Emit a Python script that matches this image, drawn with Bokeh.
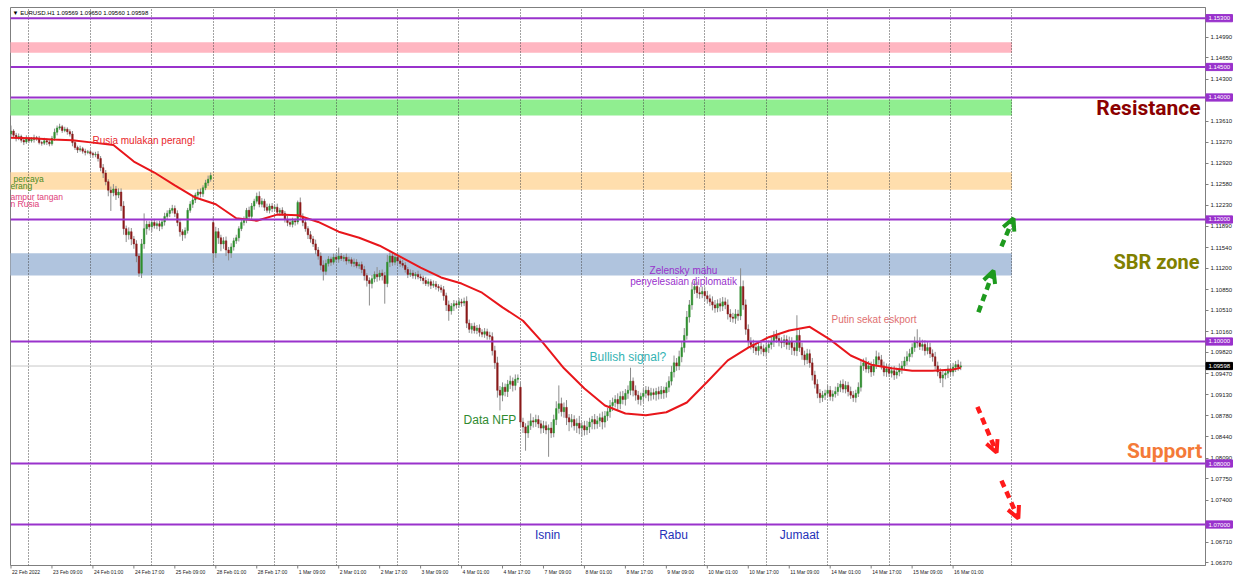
from bokeh.plotting import figure
from bokeh.models import (Range1d, FixedTicker, PrintfTickFormatter, Span, Label,
                          Arrow, OpenHead, Grid)
from bokeh.core.properties import value
from bokeh.embed import file_html
from bokeh.resources import INLINE

# ---------------- data (EURUSD H1) ----------------
first_open = 1.1340
closes = [
    # 22 Feb 17:00 ..
    1.1345, 1.1338, 1.1333, 1.1336, 1.1330, 1.1327, 1.1332, 1.1329, 1.1331, 1.1334, 1.1333, 1.1326, 1.1325, 1.1329, 1.1327, 1.1324,
    1.1333, 1.1343, 1.1350, 1.1352, 1.1346, 1.1348, 1.1344, 1.1340, 1.1326,
    1.1318, 1.1314, 1.1316, 1.1312, 1.1310, 1.1311, 1.1308, 1.1306, 1.1307,
    1.1300, 1.1285, 1.1276, 1.1262, 1.1248, 1.1244, 1.1250, 1.1240, 1.1245,
    1.1222, 1.1185, 1.1175, 1.1180, 1.1168, 1.1160, 1.1140, 1.1112, 1.1160,
    1.1185, 1.1192, 1.1188, 1.1195, 1.1190, 1.1193, 1.1189, 1.1196, 1.1205, 1.1210, 1.1215, 1.1218, 1.1210,
    1.1195, 1.1180, 1.1175, 1.1182,
    1.1215, 1.1225, 1.1232, 1.1240, 1.1245, 1.1242, 1.1252, 1.1260, 1.1266, 1.1272,
    # 28 Feb
    1.1145, 1.1180, 1.1170, 1.1160, 1.1165, 1.1150, 1.1145, 1.1155, 1.1165,
    1.1170, 1.1185, 1.1195, 1.1200, 1.1215, 1.1205, 1.1222, 1.1230, 1.1238, 1.1225,
    1.1230, 1.1220, 1.1215, 1.1222, 1.1218, 1.1220, 1.1212, 1.1215, 1.1210, 1.1200, 1.1195, 1.1192, 1.1198, 1.1196, 1.1228, 1.1205,
    1.1195, 1.1185, 1.1175, 1.1168, 1.1160, 1.1150, 1.1140, 1.1125, 1.1115, 1.1128,
    1.1135, 1.1130, 1.1138, 1.1135, 1.1140, 1.1136, 1.1138, 1.1132, 1.1134, 1.1128, 1.1130, 1.1124, 1.1126,
    1.1118, 1.1108, 1.1100, 1.1095, 1.1103, 1.1110, 1.1106, 1.1112, 1.1108,
    1.1095, 1.1130, 1.1140, 1.1130, 1.1138,
    1.1132, 1.1128, 1.1125, 1.1118, 1.1110, 1.1112, 1.1108, 1.1110, 1.1106, 1.1104, 1.1100, 1.1095, 1.1098, 1.1092, 1.1094, 1.1090, 1.1088, 1.1085,
    1.1075, 1.1060, 1.1050, 1.1058, 1.1062, 1.1060, 1.1065, 1.1063, 1.1066, 1.1030,
    1.1020, 1.1025, 1.1018, 1.1022, 1.1015, 1.1012, 1.1016, 1.1010, 1.1008, 1.0985,
    1.0965, 1.0920, 1.0912, 1.0925, 1.0918, 1.0930, 1.0935, 1.0928, 1.0938, 1.0940,
    # 7 Mar
    1.0868, 1.0860, 1.0850, 1.0862, 1.0870, 1.0868, 1.0872, 1.0865, 1.0858, 1.0862, 1.0855, 1.0858, 1.0850, 1.0872, 1.0890, 1.0898,
    1.0885, 1.0892, 1.0875, 1.0868, 1.0872, 1.0862, 1.0866, 1.0858, 1.0862, 1.0855, 1.0860, 1.0868, 1.0872, 1.0865, 1.0870, 1.0875,
    1.0868, 1.0878, 1.0885, 1.0895, 1.0900, 1.0905, 1.0898, 1.0910, 1.0905, 1.0915, 1.0920, 1.0935, 1.0920, 1.0912, 1.0905, 1.0910,
    1.0915, 1.0920, 1.0912, 1.0916, 1.0913, 1.0918, 1.0914, 1.0920, 1.0916, 1.0925,
    1.0935, 1.0950, 1.0965, 1.0960, 1.0975, 1.0990, 1.1010, 1.1040, 1.1060, 1.1085, 1.1090, 1.1080, 1.1078, 1.1082, 1.1075,
    1.1070, 1.1065, 1.1060, 1.1055, 1.1062, 1.1058, 1.1065, 1.1060, 1.1045, 1.1040, 1.1038, 1.1045, 1.1042, 1.1090,
    1.1060, 1.1020, 1.1000, 1.0995, 1.0990, 1.0985, 1.0992, 1.0988, 1.0983, 1.0990, 1.0995,
    1.1000, 1.1010, 1.1005, 1.1000, 1.0998, 1.1003, 1.0995, 1.1000, 1.0990,
    1.0985, 1.1010, 1.0990, 1.0978, 1.0970, 1.0980, 1.0965, 1.0945, 1.0930, 1.0915, 1.0908,
    1.0912, 1.0915, 1.0920, 1.0910, 1.0914, 1.0918, 1.0925, 1.0930, 1.0922, 1.0928, 1.0918, 1.0912, 1.0908, 1.0915, 1.0925,
    1.0960, 1.0965, 1.0955, 1.0960, 1.0950, 1.0962, 1.0975, 1.0970, 1.0960, 1.0950, 1.0955, 1.0948, 1.0952, 1.0945, 1.0950, 1.0955,
    1.0960, 1.0968, 1.0975, 1.0980, 1.0990, 1.1000, 1.0998, 1.0992, 1.0995, 1.0985, 1.0990, 1.0980, 1.0975, 1.0960, 1.0950, 1.0940,
    1.0945, 1.0948, 1.0955, 1.0950, 1.0958, 1.0962, 1.0958, 1.0960,
]
# opening prices that differ from the previous close (weekend gaps)
gap_opens = {79: 1.1195, 199: 1.0925}

up_wick_pips = [
    9, 3, 4, 5, 3, 4, 6, 3, 4, 5, 3, 4, 3, 5, 4, 3,
    4, 6, 4, 5, 3, 4, 3, 4, 5,
    4, 3, 5, 3, 4, 3, 4, 3, 4,
    5, 4, 6, 5, 4, 6, 8, 5, 6,
    6, 8, 5, 7, 6, 5, 6, 4, 8,
    25, 6, 5, 4, 6, 4, 5, 4, 6, 5, 4, 6, 5,
    5, 6, 4, 5,
    4, 5, 6, 4, 5, 6, 4, 5, 6, 5,
    10, 8, 6, 5, 6, 7, 5, 6, 5,
    5, 4, 6, 5, 4, 6, 5, 4, 6, 8,
    5, 4, 6, 4, 5, 4, 6, 4, 5, 4, 6, 4, 5, 4, 3, 8,
    5, 6, 4, 6, 5, 7, 5, 6, 8, 6,
    5, 4, 6, 5, 14, 5, 4, 6, 5, 4, 6, 5, 4,
    5, 6, 4, 5, 6, 5, 12, 5, 6,
    6, 12, 6, 5, 6,
    5, 4, 6, 5, 4, 6, 5, 4, 6, 5, 4, 6, 5, 4, 6, 5, 4, 5,
    6, 5, 7, 5, 6, 5, 6, 5, 6, 8,
    6, 5, 6, 5, 6, 5, 6, 5, 6, 7,
    8, 10, 7, 8, 6, 7, 9, 6, 8, 6,
    8, 7, 6, 8, 12, 6, 8, 7, 6, 8, 7, 6, 10, 8, 12, 30,
    10, 8, 12, 6, 9, 7, 8, 12, 6, 8, 10, 7, 6, 9, 8, 7, 10, 8, 6, 9, 8, 7, 10, 8, 9, 7, 8, 22, 6, 8,
    7, 6, 8, 7, 6, 8, 7, 6, 8, 7, 6, 8,
    8, 10, 12, 8, 10, 9, 12, 10, 8, 12, 10, 8, 9, 8, 7,
    8, 7, 9, 8, 7, 9, 8, 7, 9, 8, 7, 8, 7, 30,
    10, 9, 8, 7, 8, 7, 9, 8, 7, 8, 7,
    8, 7, 9, 8, 7, 8, 7, 8, 7,
    8, 33, 9, 8, 7, 8, 7, 8, 7, 8, 7,
    7, 6, 8, 7, 6, 8, 7, 6, 8, 7, 6, 8, 7, 6, 8,
    8, 7, 9, 8, 7, 9, 10, 7, 8, 7, 9, 8, 7, 8, 7, 9, 8, 7, 9, 8,
    7, 8, 20, 9, 8, 7, 9, 8, 7, 8, 7, 6, 8, 7, 6, 8, 7, 6, 8, 7,
]
down_wick_pips = [
    4, 3, 5, 3, 4, 5, 3, 4, 3, 5, 4, 3, 4, 3, 5, 4,
    3, 4, 5, 3, 4, 3, 5, 4, 6,
    4, 5, 3, 4, 5, 3, 4, 5, 4,
    5, 6, 8, 6, 10, 30, 6, 8, 5,
    8, 10, 12, 8, 10, 8, 10, 6, 8,
    8, 10, 6, 8, 5, 6, 8, 5, 6, 5, 6, 5, 6,
    6, 8, 10, 6,
    5, 4, 6, 5, 4, 6, 5, 4, 5, 4,
    16, 8, 10, 12, 8, 10, 12, 8, 6,
    5, 6, 4, 5, 6, 4, 5, 6, 4, 5,
    5, 6, 4, 5, 6, 4, 5, 6, 4, 5, 6, 4, 5, 6, 4, 5,
    6, 5, 7, 6, 5, 7, 6, 8, 15, 6,
    5, 6, 4, 5, 6, 4, 5, 6, 4, 5, 6, 4, 5,
    6, 8, 10, 36, 8, 6, 8, 6, 8,
    33, 6, 8, 6, 5,
    5, 6, 4, 5, 6, 4, 5, 6, 4, 5, 6, 4, 5, 6, 4, 5, 6, 5,
    8, 10, 16, 6, 8, 6, 5, 6, 5, 8,
    6, 7, 5, 6, 7, 5, 6, 7, 5, 8,
    10, 12, 25, 10, 8, 9, 8, 10, 8, 6,
    8, 10, 29, 8, 7, 9, 8, 7, 9, 8, 7, 44, 8, 7, 9, 8,
    8, 10, 12, 15, 9, 8, 12, 10, 14, 9, 8, 10, 12, 9, 8, 10, 12, 9, 8, 10, 9, 8, 10, 9, 8, 10, 9, 8, 10, 9,
    8, 10, 9, 8, 10, 9, 8, 10, 9, 8, 10, 8,
    8, 7, 9, 8, 7, 9, 8, 7, 9, 8, 7, 9, 8, 7, 9,
    8, 7, 9, 8, 7, 9, 8, 7, 9, 8, 7, 9, 8, 7,
    8, 9, 10, 8, 9, 7, 8, 9, 7, 8, 9,
    8, 9, 7, 8, 9, 7, 8, 9, 12,
    8, 9, 7, 8, 9, 7, 8, 9, 7, 8, 9,
    7, 8, 6, 7, 8, 6, 7, 8, 6, 7, 8, 6, 7, 8, 6,
    7, 8, 6, 7, 8, 6, 7, 8, 6, 7, 8, 6, 7, 8, 6, 7, 8, 6, 7, 8,
    6, 7, 8, 6, 7, 8, 6, 7, 8, 6, 7, 8, 15, 7, 8, 6, 7, 8, 6, 5,
]

# red moving average, read at every 8th bar
ma_bars = [0, 8, 16, 24, 32, 40, 48, 56, 64, 72, 80, 88, 96, 104, 112, 120, 128, 136, 144, 152,
           160, 168, 176, 184, 192, 200, 208, 216, 224, 232, 240, 248, 256, 264, 272, 280, 288,
           296, 304, 312, 320, 328, 336, 344, 352, 360, 368, 371]
ma_values = [1.1334, 1.1333, 1.1331, 1.1330, 1.1326, 1.1322, 1.1295, 1.1277, 1.1256, 1.1236,
             1.1225, 1.1202, 1.1198, 1.1208, 1.1207, 1.1196, 1.1180, 1.1170, 1.1157, 1.1139,
             1.1121, 1.1105, 1.1095, 1.1080, 1.1056, 1.1034, 1.0997, 1.0956, 1.0923, 1.0895,
             1.0882, 1.0879, 1.0884, 1.0900, 1.0934, 1.0969, 1.0990, 1.1007, 1.1018, 1.1024,
             1.1003, 1.0977, 1.0962, 1.0956, 1.0952, 1.0952, 1.0954, 1.0957]

level_prices = [1.15300, 1.14500, 1.14000, 1.12000, 1.10000, 1.08000, 1.07000]
zone_bottoms = [1.14733, 1.13705, 1.12487, 1.11082]
zone_tops = [1.14907, 1.13967, 1.12775, 1.11448]
zone_colors = ["#FFB6C1", "#90EE90", "#FFDEAD", "#B0C4DE"]
zone_end_bar = 391
last_price = 1.09598

y_ticks = [1.06370, 1.06710, 1.07400, 1.07750, 1.08090, 1.08440, 1.08780, 1.09130, 1.09470,
           1.09820, 1.10160, 1.10510, 1.10850, 1.11200, 1.11540, 1.11890, 1.12230, 1.12580,
           1.12920, 1.13270, 1.13610, 1.14300, 1.14650, 1.14990]
time_labels = ["22 Feb 2022", "23 Feb 09:00", "24 Feb 01:00", "24 Feb 17:00", "25 Feb 09:00",
               "28 Feb 01:00", "28 Feb 17:00", "1 Mar 09:00", "2 Mar 01:00", "2 Mar 17:00",
               "3 Mar 09:00", "4 Mar 01:00", "4 Mar 17:00", "7 Mar 09:00", "8 Mar 01:00",
               "8 Mar 17:00", "9 Mar 09:00", "10 Mar 01:00", "10 Mar 17:00", "11 Mar 09:00",
               "14 Mar 01:00", "14 Mar 17:00", "15 Mar 09:00", "16 Mar 01:00"]
label_step = 16
day_start_bars = [7, 31, 55, 79, 103, 127, 151, 175, 199, 223, 247, 271, 295, 319, 343, 367, 391]

# ---------------- candles ----------------
n = min(len(closes), len(up_wick_pips), len(down_wick_pips))
idx, highs, lows, tops, bottoms, colors = [], [], [], [], [], []
prev = first_open
for i in range(n):
    c = closes[i]
    o = gap_opens.get(i, prev)
    prev = c
    idx.append(i)
    highs.append(max(o, c) + up_wick_pips[i] / 10000.0)
    lows.append(min(o, c) - down_wick_pips[i] / 10000.0)
    tops.append(max(o, c))
    bottoms.append(min(o, c))
    colors.append("#2F8F2F" if c >= o else "#8B1A1A")

# ---------------- figure ----------------
FRAME_W, FRAME_H = 1195, 558
X_START = -0.195
X_END = X_START + FRAME_W / 2.56          # 2.56 px per hourly bar
Y_START, Y_END = 1.06328, 1.15475
PX_Y = (Y_END - Y_START) / FRAME_H          # price per screen pixel
PX_X = (X_END - X_START) / FRAME_W          # bars per screen pixel

p = figure(width=1237, height=577, x_range=Range1d(X_START, X_END), y_range=Range1d(Y_START, Y_END),
           x_axis_location=None, y_axis_location="right", output_backend="svg",
           toolbar_location=None, min_border_left=10, min_border_right=32, min_border_top=7,
           min_border_bottom=12, background_fill_color="white", border_fill_color="white")
p.outline_line_color = "#7F7F7F"
p.grid.visible = False

# zones (behind everything)
p.quad(left=[X_START - 2] * len(zone_tops), right=[zone_end_bar] * len(zone_tops),
       bottom=zone_bottoms, top=zone_tops, fill_color=zone_colors, line_color=None, level="image")

# dotted day separators
p.add_layout(Grid(dimension=0, ticker=FixedTicker(ticks=day_start_bars), grid_line_color="#444444",
                  grid_line_dash="1 2", grid_line_width=1))

# current bid line
p.add_layout(Span(location=last_price, dimension="width", line_color="#C8C8C8", line_width=1,
                  level="underlay"))

p.segment(x0=idx, y0=lows, x1=idx, y1=highs, line_color="#8C8C8C", line_width=1)
p.vbar(x=idx, width=0.62, top=tops, bottom=bottoms, fill_color=colors, line_color=colors, line_width=0.5)

p.line(ma_bars, ma_values, line_color="#E8161B", line_width=2)

for lvl in level_prices:
    p.add_layout(Span(location=lvl, dimension="width", line_color="#9932CC", line_width=2))

# right price axis
yax = p.yaxis[0]
yax.ticker = FixedTicker(ticks=y_ticks)
yax.formatter = PrintfTickFormatter(format="%.5f")
yax.major_label_text_font = "Liberation Sans"
yax.major_label_text_font_size = "6px"
yax.major_label_text_color = "#202020"
yax.axis_line_color = "#7F7F7F"
yax.major_tick_line_color = "#7F7F7F"
yax.major_tick_out = 3
yax.major_tick_in = 0
yax.minor_tick_line_color = None
yax.major_label_standoff = 2

# price tags on the scale for the horizontal lines and the bid (drawn unclipped, overlay level)
tag_prices = level_prices + [last_price]
tag_fill = ["#9932CC"] * len(level_prices) + ["#000000"]
tag_left = X_END + 0.5 * PX_X
tag_right = X_END + 27 * PX_X
p.quad(left=[tag_left] * len(tag_prices), right=[tag_right] * len(tag_prices),
       bottom=[t - 3.6 * PX_Y for t in tag_prices], top=[t + 3.6 * PX_Y for t in tag_prices],
       fill_color=tag_fill, line_color=tag_fill, level="overlay")
p.text(x=[(tag_left + tag_right) / 2] * len(tag_prices), y=tag_prices,
       text=[f"{t:.5f}" for t in tag_prices], text_color="white", text_font=value("Liberation Sans"),
       text_font_size="6px", text_align="center", text_baseline="middle", level="overlay")

# time scale along the bottom (MT4 starts each label at its bar)
label_bars = [k * label_step for k in range(len(time_labels))]
p.segment(x0=label_bars, x1=label_bars, y0=[Y_START] * len(label_bars),
          y1=[Y_START - 3 * PX_Y] * len(label_bars), line_color="#7F7F7F", line_width=1,
          level="overlay")
p.text(x=label_bars, y=[Y_START] * len(label_bars), text=time_labels, text_color="#202020",
       text_font=value("Liberation Sans"), text_font_size="5px", text_align="left",
       text_baseline="top", x_offset=1, y_offset=3, level="overlay")

# header
p.add_layout(Label(x=0.6, y=Y_END, y_offset=-2, text="\u25BC EURUSD.H1  1.09569 1.09650 1.09560 1.09598",
                   text_font="Liberation Sans", text_font_size="6px", text_color="#000000",
                   text_baseline="top", text_align="left"))

# annotations: (text, bar, price, colour, size, align, bold)
notes = [
    ("Rusia mulakan perang!", 31.8, 1.13295, "#E8262B", "10px", "left", False),
    ("percaya", 1.0, 1.12656, "#4A8B22", "8.5px", "left", False),
    ("erang", -0.2, 1.12541, "#4A8B22", "8.5px", "left", False),
    ("ampur tangan", -0.2, 1.12361, "#E0407A", "8.5px", "left", False),
    ("n Rusia", -0.2, 1.12246, "#E0407A", "8.5px", "left", False),
    ("Zelensky mahu", 262.7, 1.11164, "#9932CC", "10px", "center", False),
    ("penyelesaian diplomatik", 262.7, 1.10984, "#9932CC", "10px", "center", False),
    ("Bullish signal?", 226.0, 1.09738, "#33B3B3", "12px", "left", False),
    ("Data NFP", 176.8, 1.08705, "#2F8A2F", "12px", "left", False),
    ("Putin sekat eskport", 320.5, 1.10361, "#E07070", "10px", "left", False),
    ("Isnin", 209.6, 1.06820, "#2431B8", "12px", "center", False),
    ("Rabu", 258.8, 1.06820, "#2431B8", "12px", "center", False),
    ("Jumaat", 308.0, 1.06820, "#2431B8", "12px", "center", False),
    ("Resistance", 464.7, 1.13820, "#8B0000", "21px", "right", True),
    ("SBR zone", 464.3, 1.11295, "#808000", "20px", "right", True),
    ("Support", 465.4, 1.08213, "#F47A38", "21px", "right", True),
]
for text, bx, py, col, size, align, bold in notes:
    p.add_layout(Label(x=bx, y=py, text=text, text_color=col, text_font_size=size,
                       text_font="Roboto" if bold else "Liberation Sans",
                       text_font_style="bold" if bold else "normal",
                       text_align=align, text_baseline="middle"))

# dashed direction arrows: (bar0, price0, bar1, price1, colour)
arrows = [
    (377.9, 1.1048, 383.8, 1.1116, "#1E9A1E"),
    (386.9, 1.1156, 391.6, 1.1202, "#1E9A1E"),
    (377.5, 1.0893, 385.0, 1.0818, "#FF1A1A"),
    (386.9, 1.0772, 393.5, 1.0710, "#FF1A1A"),
]
for x0, y0, x1, y1, col in arrows:
    p.add_layout(Arrow(x_start=x0, y_start=y0, x_end=x1, y_end=y1, line_color=col, line_width=4.5,
                       line_dash="7 5", end=OpenHead(size=12, line_color=col, line_width=4)))

open("out.html", "w").write(file_html(p, INLINE))
